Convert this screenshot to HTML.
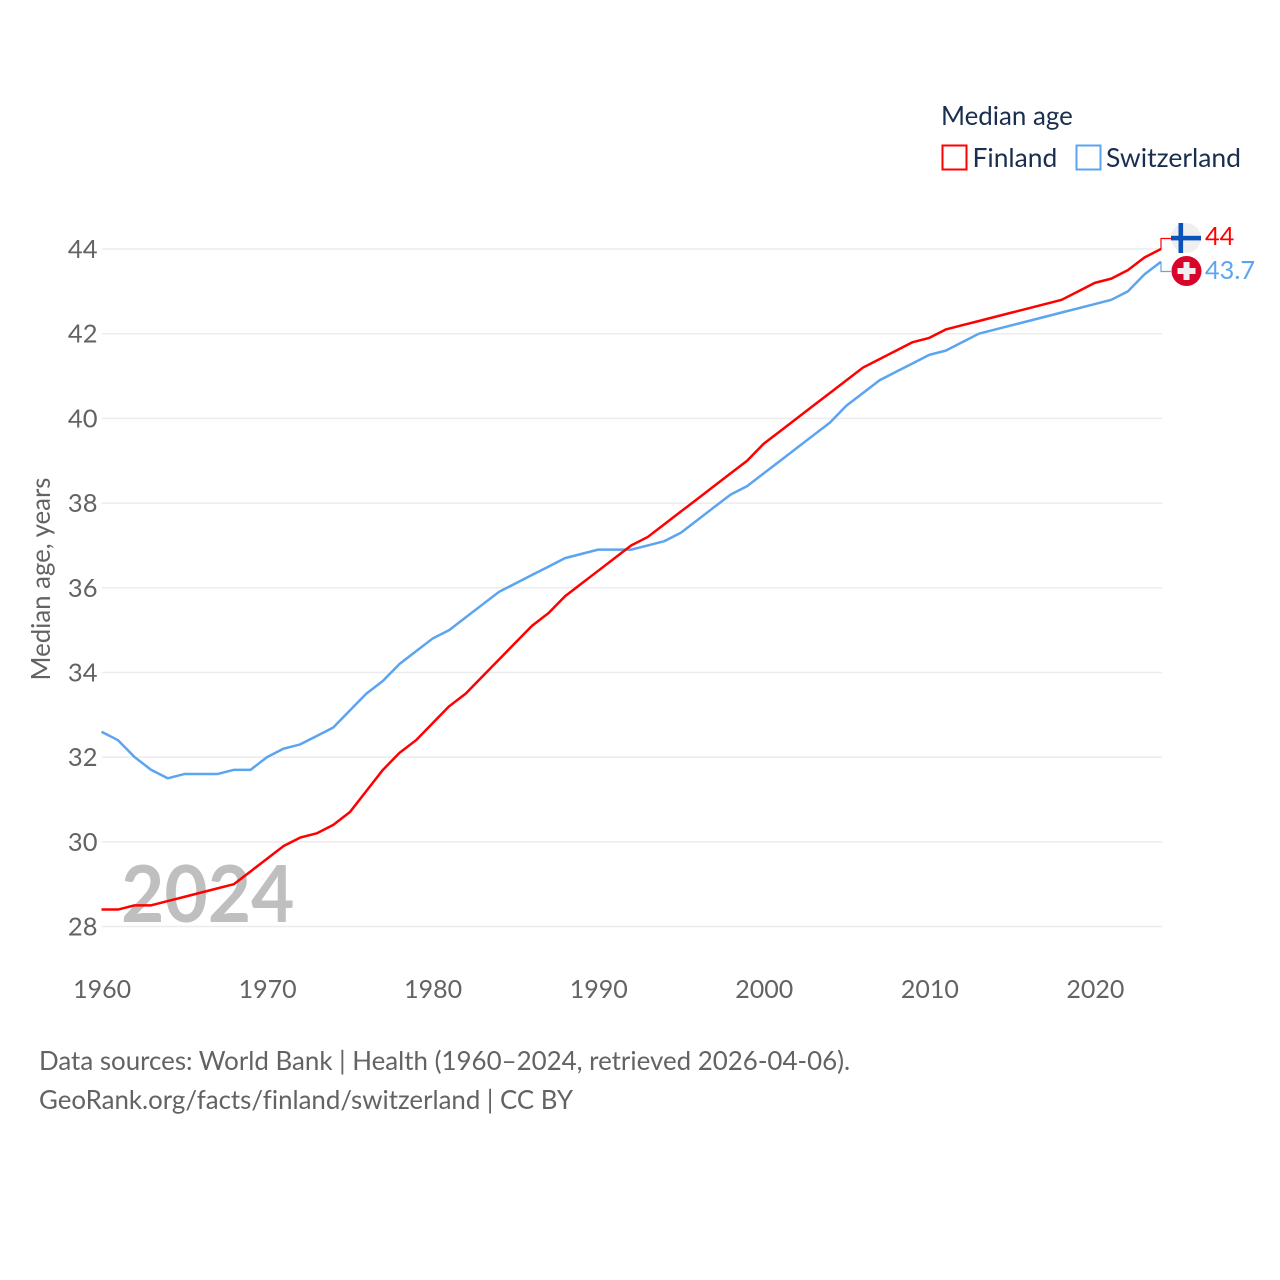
<!DOCTYPE html>
<html lang="en">
<head>
<meta charset="utf-8">
<title>Median age: Finland and Switzerland</title>
<style>
html,body{margin:0;padding:0;background:#fff;width:1280px;height:1280px;overflow:hidden}
svg{display:block}
text{font-family:"Lato","Carlito","Liberation Sans",sans-serif;font-variant-ligatures:none}
</style>
</head>
<body>
<svg id="chart" xmlns="http://www.w3.org/2000/svg" width="1280" height="1280" viewBox="0 0 1280 1280">
  <g id="grid"></g>
  <g id="yticks"></g>
  <g id="xticks"></g>
  <text transform="translate(50,579) rotate(-90)" text-anchor="middle" font-size="25.8" fill="#636363">Median age, years</text>
  <text transform="translate(121,922) scale(0.935,0.98)" font-size="80" font-weight="700" fill="#bfbfbf">2024</text>
  <g id="series"></g>

  <g>
    <text x="941" y="125" font-size="25.9" fill="#1a2f4f">Median age</text>
    <rect x="942.5" y="145.5" width="24" height="24" fill="#fff" stroke="#ff0000" stroke-width="2"/>
    <text x="972.5" y="167" font-size="26.4" fill="#1a2f4f">Finland</text>
    <rect x="1076.5" y="145.5" width="24" height="24" fill="#fff" stroke="#5ba4f0" stroke-width="2"/>
    <text x="1106" y="167" font-size="26.5" fill="#1a2f4f">Switzerland</text>
  </g>

  <g id="ends"></g>

  <g>
    <circle cx="1186" cy="238" r="15" fill="#efefef"/>
    <rect x="1171" y="235.8" width="30" height="4.6" fill="#0a52b8"/>
    <rect x="1178.5" y="223" width="4.6" height="30" fill="#0a52b8"/>
  </g>
  <g>
    <circle cx="1186.5" cy="271" r="15" fill="#d90429"/>
    <rect x="1177.5" y="268" width="18" height="6" fill="#efefef"/>
    <rect x="1183.5" y="262" width="6" height="18" fill="#efefef"/>
  </g>

  <text x="39" y="1070" font-size="25.9" fill="#636363">Data sources: World Bank | Health (1960–2024, retrieved 2026-04-06).</text>
  <text x="39" y="1109" font-size="25.85" fill="#636363">GeoRank.org/facts/finland/switzerland | CC BY</text>
</svg>
<script>
const years = [1960,1961,1962,1963,1964,1965,1966,1967,1968,1969,1970,1971,1972,1973,1974,1975,1976,1977,1978,1979,1980,1981,1982,1983,1984,1985,1986,1987,1988,1989,1990,1991,1992,1993,1994,1995,1996,1997,1998,1999,2000,2001,2002,2003,2004,2005,2006,2007,2008,2009,2010,2011,2012,2013,2014,2015,2016,2017,2018,2019,2020,2021,2022,2023,2024];
const finland = [28.4,28.4,28.5,28.5,28.6,28.7,28.8,28.9,29.0,29.3,29.6,29.9,30.1,30.2,30.4,30.7,31.2,31.7,32.1,32.4,32.8,33.2,33.5,33.9,34.3,34.7,35.1,35.4,35.8,36.1,36.4,36.7,37.0,37.2,37.5,37.8,38.1,38.4,38.7,39.0,39.4,39.7,40.0,40.3,40.6,40.9,41.2,41.4,41.6,41.8,41.9,42.1,42.2,42.3,42.4,42.5,42.6,42.7,42.8,43.0,43.2,43.3,43.5,43.8,44.0];
const switzerland = [32.6,32.4,32.0,31.7,31.5,31.6,31.6,31.6,31.7,31.7,32.0,32.2,32.3,32.5,32.7,33.1,33.5,33.8,34.2,34.5,34.8,35.0,35.3,35.6,35.9,36.1,36.3,36.5,36.7,36.8,36.9,36.9,36.9,37.0,37.1,37.3,37.6,37.9,38.2,38.4,38.7,39.0,39.3,39.6,39.9,40.3,40.6,40.9,41.1,41.3,41.5,41.6,41.8,42.0,42.1,42.2,42.3,42.4,42.5,42.6,42.7,42.8,43.0,43.4,43.7];
const yTickValues = [28,30,32,34,36,38,40,42,44];
const xTickValues = [1960,1970,1980,1990,2000,2010,2020];

const NS = 'http://www.w3.org/2000/svg';
const RED = '#ff0000';
const BLUE = '#5ba4f0';
function xScale(year){ return 101.5 + (year - 1960) * (1161 - 101.5) / 64; }
function yScale(v){ return 926.5 - (v - 28) * (926.5 - 249) / 16; }
function make(tag, attrs, parent){
  const el = document.createElementNS(NS, tag);
  for (const k in attrs) el.setAttribute(k, attrs[k]);
  parent.appendChild(el);
  return el;
}

const gridG = document.getElementById('grid');
const yG = document.getElementById('yticks');
yTickValues.forEach(function(v){
  const line = make('line', {x1:102, x2:1162, y1:yScale(v), y2:yScale(v), stroke:'#ececec', 'stroke-width':1.5}, gridG);
  
  
  const t = make('text', {x:97.5, y:yScale(v) + 9, 'text-anchor':'end', 'font-size':25.5, fill:'#636363'}, yG);
  t.textContent = v;
  
  
});

const xG = document.getElementById('xticks');
xTickValues.forEach(function(v){
  const t = make('text', {x:xScale(v) + 0.6, y:998, 'text-anchor':'middle', 'font-size':25, fill:'#636363'}, xG);
  t.textContent = v;
  
  
});

function pathFor(vals){
  return vals.map(function(v, i){
    return (i ? 'L' : 'M') + xScale(years[i]).toFixed(2) + ' ' + yScale(v).toFixed(2);
  }).join('');
}
const seriesG = document.getElementById('series');
const swissLine = make('path', {d:pathFor(switzerland), fill:'none', stroke:BLUE, 'stroke-width':2.5, 'stroke-linejoin':'round'}, seriesG);


const finLine = make('path', {d:pathFor(finland), fill:'none', stroke:RED, 'stroke-width':2.5, 'stroke-linejoin':'round'}, seriesG);



const endsG = document.getElementById('ends');
function endLabel(vals, color, labelY, textY, label){
  const x = xScale(years[years.length - 1]);
  const y = yScale(vals[vals.length - 1]);
  const conn = make('path', {d:'M' + x + ' ' + y + 'V' + labelY + 'H1171', fill:'none', stroke:color, 'stroke-width':1.2}, endsG);
  
  
  const t = make('text', {x:1205, y:textY, 'font-size':25.3, fill:color}, endsG);
  t.textContent = vals[vals.length - 1];
  
  
}
endLabel(finland, RED, 238.5, 245, 'finland');
endLabel(switzerland, BLUE, 271.5, 279, 'switzerland');
</script>
</body>
</html>
